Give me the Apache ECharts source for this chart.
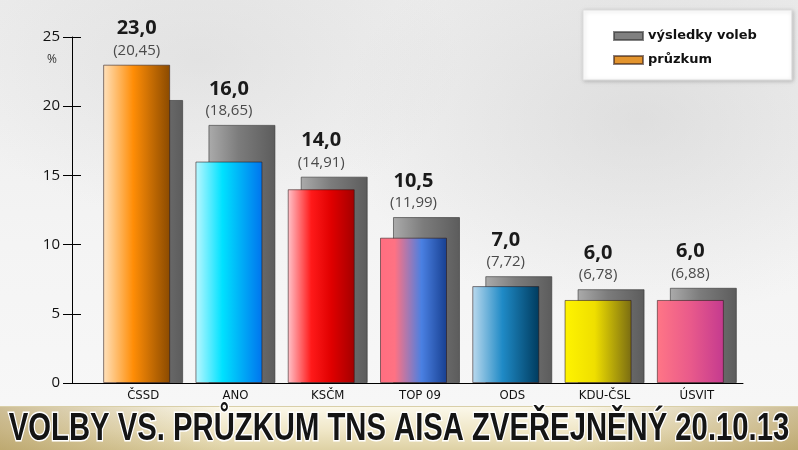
<!DOCTYPE html>
<html>
<head>
<meta charset="utf-8">
<script src="https://cdn.jsdelivr.net/npm/echarts@6/dist/echarts.min.js"></script>
<style>
  html, body { margin: 0; padding: 0; }
  #wrap { position: relative; width: 798px; height: 450px; overflow: hidden; }
  #bgTop { position: absolute; left: 0; top: 0; width: 798px; height: 406px;
    background:
      radial-gradient(ellipse 300px 200px at 640px 120px, rgba(190,190,190,0.35), rgba(190,190,190,0) 100%),
      radial-gradient(ellipse 260px 160px at 200px 60px, rgba(200,200,200,0.3), rgba(200,200,200,0) 100%),
      linear-gradient(to bottom, #ececec, #f4f4f4 60%, #f7f7f7); }
  #bgBand { position: absolute; left: 0; top: 406px; width: 798px; height: 44px;
    border-top: 1px solid #d9cfa8;
    background:
      linear-gradient(to right, rgba(150,120,50,0.45), rgba(150,120,50,0) 28%, rgba(150,120,50,0) 72%, rgba(150,120,50,0.45)),
      linear-gradient(to bottom, #fbf8ea, #efe6c6 55%, #ddd0a2); }
  #chart { position: absolute; left: 0; top: 0; width: 798px; height: 450px; }
</style>
</head>
<body>
<div id="wrap">
  <div id="bgTop"></div>
  <div id="bgBand"></div>
  <div id="chart"></div>
</div>
<script>
// ---- data ----
var categories = ['ČSSD', 'ANO', 'KSČM', 'TOP 09', 'ODS', 'KDU-ČSL', 'ÚSVIT'];
var pollValues = [23.0, 16.0, 14.0, 10.5, 7.0, 6.0, 6.0];          // průzkum
var resultValues = [20.45, 18.65, 14.91, 11.99, 7.72, 6.78, 6.88];  // výsledky voleb
var yTicks = [0, 5, 10, 15, 20, 25];
var seriesNames = ['výsledky voleb', 'průzkum'];
var titleText = 'VOLBY VS. PRŮZKUM TNS AISA ZVEŘEJNĚNÝ 20.10.13';

// ---- styles ----
var barGradients = [
  [[0, '#ffe2bd'], [0.45, '#ff8d06'], [1, '#8a4a00']],
  [[0, '#bdf7ff'], [0.4, '#00e2ff'], [1, '#0074ee']],
  [[0, '#ffc4cb'], [0.35, '#ff1a1a'], [0.65, '#e00000'], [1, '#a30000']],
  [[0, '#ff6e80'], [0.22, '#ff7283'], [0.62, '#4a80e2'], [1, '#173f90']],
  [[0, '#bcdaee'], [0.45, '#1f8ac6'], [1, '#003b5e']],
  [[0, '#fff400'], [0.45, '#efdf00'], [1, '#7a6c12']],
  [[0, '#ff7686'], [0.5, '#e95a8b'], [1, '#c43a8f']]
];
var greyGradient = [[0, '#ababab'], [0.45, '#7c7c7c'], [1, '#5c5c5c']];
var condensedFont = "'DejaVu Sans Condensed', 'Roboto Condensed', 'Liberation Sans Narrow', 'Liberation Sans', sans-serif";

function grad(stops) {
  return new echarts.graphic.LinearGradient(0, 0, 1, 0,
    stops.map(function (s) { return { offset: s[0], color: s[1] }; }));
}
function fmt(v, d) { return v.toFixed(d).replace('.', ','); }
function labelText(i) {
  return '{a|' + fmt(pollValues[i], 1) + '}\n{b|(' + fmt(resultValues[i], 2) + ')}';
}
var richStyle = {
  a: { fontFamily: 'Open Sans', fontWeight: 'bold', fontSize: 20, color: '#1a1a1a', lineHeight: 26 },
  b: { fontFamily: 'Open Sans', fontSize: 15, color: '#4a4a4a', lineHeight: 18 }
};

var BAR_W = 67, SHIFT = 13;

var pollData = pollValues.map(function (v, i) {
  return {
    value: v,
    itemStyle: { color: grad(barGradients[i]) },
    label: { show: v > resultValues[i] }
  };
});
var resultData = resultValues.map(function (v, i) {
  return { value: v, label: { show: v >= pollValues[i] } };
});

var chart = echarts.init(document.getElementById('chart'), null, { renderer: 'canvas' });
chart.setOption({
  animation: false,
  backgroundColor: 'transparent',
  title: [
    { text: '%', left: 42, top: 49,
      textStyle: { fontFamily: 'Open Sans', fontSize: 12, fontWeight: 'normal', color: '#333' } }
  ],
  graphic: [
    { type: 'text', x: 399, y: 430, scaleX: 0.77, scaleY: 1, z: 10,
      style: { text: titleText, x: 0, y: 0, align: 'center', verticalAlign: 'middle',
               font: 'bold 38px "Liberation Sans", Arial, sans-serif',
               fill: '#141414', stroke: '#ffffff', lineWidth: 3, strokeFirst: true } }
  ],
  legend: {
    left: 583, top: 10, orient: 'vertical',
    padding: [18, 35, 12, 30],
    itemGap: 8, itemWidth: 29, itemHeight: 8, icon: 'rect',
    backgroundColor: '#ffffff', borderColor: '#dddddd', borderWidth: 1,
    shadowColor: 'rgba(0,0,0,0.2)', shadowBlur: 4, shadowOffsetX: 1, shadowOffsetY: 1,
    textStyle: { fontFamily: 'DejaVu Sans', fontWeight: 'bold', fontSize: 13, color: '#111', lineHeight: 16 },
    data: [
      { name: seriesNames[0], itemStyle: { color: '#808080' } },
      { name: seriesNames[1], itemStyle: { color: '#e3942e' } }
    ]
  },
  grid: [
    { left: 97, right: 55, top: 37, bottom: 67 },
    { left: 72, width: 25, top: 37, bottom: 67 }
  ],
  xAxis: [
    { type: 'category', gridIndex: 0, data: categories,
      axisLine: { show: true, lineStyle: { color: '#000', width: 1 } },
      axisTick: { show: false },
      axisLabel: { fontFamily: condensedFont, fontSize: 13, color: '#111', margin: 6 } },
    { type: 'value', gridIndex: 1, min: 0, max: 1,
      axisLine: { show: true, onZero: false, lineStyle: { color: '#000', width: 1 } },
      axisTick: { show: false }, axisLabel: { show: false }, splitLine: { show: false } }
  ],
  yAxis: [
    { type: 'value', gridIndex: 0, min: yTicks[0], max: yTicks[yTicks.length - 1], interval: yTicks[1] - yTicks[0],
      position: 'left', offset: 25,
      axisLine: { show: true, lineStyle: { color: '#000', width: 1 } },
      axisTick: { show: true, inside: false, length: 9, lineStyle: { color: '#000' } },
      axisLabel: { fontFamily: 'Open Sans', fontSize: 15, color: '#111', margin: 12 },
      splitLine: { show: false } },
    { type: 'value', gridIndex: 0, min: yTicks[0], max: yTicks[yTicks.length - 1], interval: yTicks[1] - yTicks[0],
      position: 'left', offset: 25,
      axisLine: { show: false },
      axisTick: { show: true, inside: true, length: 9, lineStyle: { color: '#000' } },
      axisLabel: { show: false },
      splitLine: { show: false } },
    { type: 'value', gridIndex: 1, show: false }
  ],
  series: [
    { name: seriesNames[1], type: 'bar', xAxisIndex: 0, yAxisIndex: 0, z: 3,
      barWidth: BAR_W, barGap: (-(BAR_W - SHIFT) / BAR_W * 100).toFixed(2) + '%',
      itemStyle: { color: '#e3942e', borderColor: 'rgba(40,20,20,0.55)', borderWidth: 1 },
      label: { position: 'top', distance: 5, align: 'center',
        formatter: function (p) { return labelText(p.dataIndex); }, rich: richStyle },
      data: pollData },
    { name: seriesNames[0], type: 'bar', xAxisIndex: 0, yAxisIndex: 0, z: 2,
      barWidth: BAR_W,
      itemStyle: { color: grad(greyGradient), borderColor: 'rgba(50,50,50,0.6)', borderWidth: 1 },
      label: { position: 'top', distance: 5, align: 'center', offset: [-SHIFT, 0],
        formatter: function (p) { return labelText(p.dataIndex); }, rich: richStyle },
      data: resultData }
  ]
});
</script>
</body>
</html>
